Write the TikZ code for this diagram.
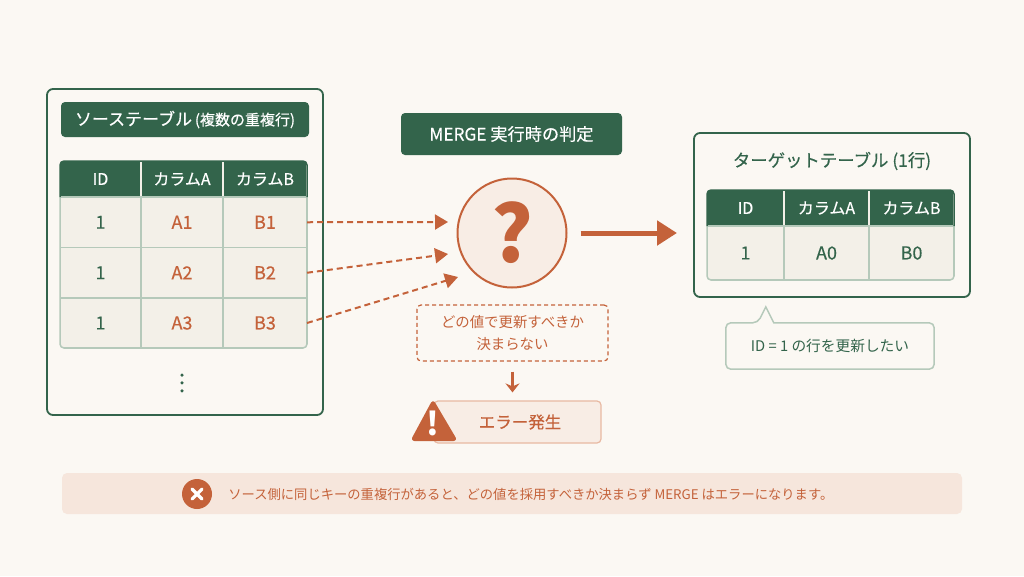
\documentclass[tikz,border=0pt]{standalone}
\usepackage{fontspec}
\setmainfont{Noto Sans CJK JP}
\newfontfamily\medfont[FakeBold=0.35]{Noto Sans CJK JP}
\usetikzlibrary{positioning,arrows.meta}
\definecolor{paper}{HTML}{FBF8F3}
\definecolor{pine}{HTML}{33644B}
\definecolor{rust}{HTML}{C4623A}
\definecolor{cellbg}{HTML}{F3F0E8}
\definecolor{cellline}{HTML}{B5C9BA}
\definecolor{blush}{HTML}{F8EDE5}
\definecolor{blushline}{HTML}{E8B9A2}
\definecolor{noticebg}{HTML}{F6E6DC}
\newcommand{\fs}[1]{\fontsize{#1}{#1}\selectfont}

\begin{document}
\begin{tikzpicture}[x=1pt, y=-1pt, node distance=0pt,
  panel/.style={draw=pine, line width=1.8pt, rounded corners=6pt, fill=paper, inner sep=0pt, outer sep=0pt},
  banner/.style={fill=pine, rounded corners=4pt, text=white, inner sep=0pt, outer sep=0pt},
  headcell/.style={fill=pine, draw=cellbg, line width=1.2pt, text=white, minimum height=36pt, inner sep=0pt, outer sep=0pt, font=\medfont\fs{16}},
  bodycell/.style={fill=cellbg, draw=cellline, line width=1.5pt, text=pine, inner sep=0pt, outer sep=0pt, font=\medfont\fs{18}},
  hotcell/.style={bodycell, text=rust},
  colid/.style={minimum width=81pt},
  cola/.style={minimum width=82pt},
  colb/.style={minimum width=84pt},
  tabline/.style={draw=cellline, line width=1.5pt, rounded corners=4pt},
  headline/.style={draw=pine, line width=1.5pt, rounded corners=4pt},
  dasharrow/.style={draw=rust, line width=2pt, dash pattern=on 6pt off 4pt, -{Triangle[length=13pt,width=15pt]}},
  moredot/.style={circle, fill=pine, minimum size=3.5pt, inner sep=0pt}]

% Page background
\fill[paper] (0,0) rectangle (1024,576);
\useasboundingbox (0,0) rectangle (1024,576);

% Source panel and its title
\node[panel, minimum width=276pt, minimum height=326pt] (srcpanel) at (185,252) {};
\node[banner, minimum width=248pt, minimum height=35pt, font=\medfont\fs{17}] (srctitle) at (185,119.5) {ソーステーブル\,{\fs{15}(複数の重複行)}};

% Source table, clipped to its rounded outline
\begin{scope}
\clip[rounded corners=4pt] (60,161) rectangle (307,348);
\node[headcell, colid] (srcid) at (100.5,179) {ID};
\node[headcell, cola, right=of srcid] (srca) {カラムA};
\node[headcell, colb, right=of srca] (srcb) {カラムB};
\node[bodycell, colid, minimum height=50.5pt, below=of srcid] (srcid1) {1};
\node[hotcell, cola, minimum height=50.5pt, below=of srca] (srca1) {A1};
\node[hotcell, colb, minimum height=50.5pt, below=of srcb] (srcb1) {B1};
\node[bodycell, colid, minimum height=50.5pt, below=of srcid1] (srcid2) {1};
\node[hotcell, cola, minimum height=50.5pt, below=of srca1] (srca2) {A2};
\node[hotcell, colb, minimum height=50.5pt, below=of srcb1] (srcb2) {B2};
\node[bodycell, colid, minimum height=50pt, below=of srcid2] (srcid3) {1};
\node[hotcell, cola, minimum height=50pt, below=of srca2] (srca3) {A3};
\node[hotcell, colb, minimum height=50pt, below=of srcb2] (srcb3) {B3};
\end{scope}
\draw[tabline] (srcid.south west) -- (srcid3.south west) -- (srcb3.south east) -- (srcb.south east);
\draw[headline] (srcid.south west) -- (srcid.north west) -- (srcb.north east) -- (srcb.south east);

% More rows
\node[moredot] (dot1) at (182,375) {};
\node[moredot, below=4pt of dot1] (dot2) {};
\node[moredot, below=4pt of dot2] (dot3) {};

% Decision title and question circle
\node[banner, minimum width=221pt, minimum height=42pt, font=\medfont\fs{17.2}] (mergetitle) at (511.5,134) {MERGE 実行時の判定};
\node[circle, draw=rust, line width=2pt, fill=blush, minimum size=109pt, inner sep=0pt, text=rust, font=\bfseries\fs{78}] (question) at (512,233) {?};

% Where the dashed arrows stop
\coordinate (tip1) at (448,222);
\coordinate (tip2) at (448,254);
\coordinate (tip3) at (458,277);
\draw[dasharrow] (srcb1.east) -- (tip1);
\draw[dasharrow] (srcb2.east) -- (tip2);
\draw[dasharrow] (srcb3.east) -- (tip3);

% Dashed note
\node[draw=rust, line width=1.2pt, dash pattern=on 4pt off 3pt, rounded corners=4pt, minimum width=191pt, minimum height=56pt, inner sep=0pt, align=center, text=rust, font=\fontsize{14.4}{21.5}\selectfont] (undecided) at (512.5,333) {どの値で更新すべきか\\決まらない};

% Error box with warning mark
\node[draw=blushline, line width=1.2pt, fill=blush, rounded corners=4pt, minimum width=167pt, minimum height=42pt, inner sep=0pt, text=rust, font=\medfont\fs{16.5}] (errorbox) at (517.5,422) {\hspace{5pt}エラー発生};
\fill[rust, draw=rust, line width=2pt, line join=round, rounded corners=2.5pt] (433,401) -- (456,440) -- (412,440) -- cycle;
\node[text=white, inner sep=0pt, font=\bfseries\fs{32}] (warnmark) at (433,423) {!};
\draw[rust, line width=2.5pt, shorten <=10pt, shorten >=8pt, -{Stealth[length=9pt,width=14pt,inset=3pt]}] (undecided.south) -- (errorbox.north -| undecided.south);

% Target panel and its table
\node[panel, minimum width=276pt, minimum height=164pt] (tgtpanel) at (832,215) {};
\node[text=pine, inner sep=0pt, font=\medfont\fs{17.4}] (tgttitle) at (832,161) {ターゲットテーブル (1行)};
\begin{scope}
\clip[rounded corners=4pt] (707,190) rectangle (954,280);
\node[headcell, minimum width=77pt] (tgtid) at (745.5,208) {ID};
\node[headcell, minimum width=85pt, right=of tgtid] (tgta) {カラムA};
\node[headcell, minimum width=85pt, right=of tgta] (tgtb) {カラムB};
\node[bodycell, minimum width=77pt, minimum height=54pt, below=of tgtid] (tgtid1) {1};
\node[bodycell, minimum width=85pt, minimum height=54pt, below=of tgta] (tgta1) {A0};
\node[bodycell, minimum width=85pt, minimum height=54pt, below=of tgtb] (tgtb1) {B0};
\end{scope}
\draw[tabline] (tgtid.south west) -- (tgtid1.south west) -- (tgtb1.south east) -- (tgtb.south east);
\draw[headline] (tgtid.south west) -- (tgtid.north west) -- (tgtb.north east) -- (tgtb.south east);

% Thick arrow to the target
\draw[rust, line width=5pt, shorten <=13pt, shorten >=17pt, -{Triangle[length=20pt,width=24pt]}] (question.east) -- (tgtpanel.west |- question.east);

% Speech bubble under the target
\node[minimum width=208pt, minimum height=46pt, inner sep=0pt, text=pine, font=\fs{14.7}] (wish) at (830,346) {ID = 1 の行を更新したい};
\draw[cellline, line width=1.5pt, rounded corners=5pt] (wish.north west) -- ([xshift=32pt]wish.north west) [sharp corners] -- ([xshift=40pt,yshift=16pt]wish.north west) -- ([xshift=48pt]wish.north west) [rounded corners=5pt] -- (wish.north east) -- (wish.south east) -- (wish.south west) -- cycle;

% Bottom notice
\node[fill=noticebg, rounded corners=5pt, minimum width=900pt, minimum height=41pt, inner sep=0pt] (notice) at (512,493.5) {};
\node[circle, fill=rust, minimum size=30pt, inner sep=0pt] (xmark) at (197,494) {};
\draw[white, line width=3.2pt, line cap=round] ([shift={(-5,-5)}]xmark.center) -- ([shift={(5,5)}]xmark.center);
\draw[white, line width=3.2pt, line cap=round] ([shift={(-5,5)}]xmark.center) -- ([shift={(5,-5)}]xmark.center);
\node[text=rust, inner sep=0pt, font=\fs{13.3}, right=16pt of xmark] (noticetext) {ソース側に同じキーの重複行があると、どの値を採用すべきか決まらず MERGE はエラーになります。};

\end{tikzpicture}
\end{document}
